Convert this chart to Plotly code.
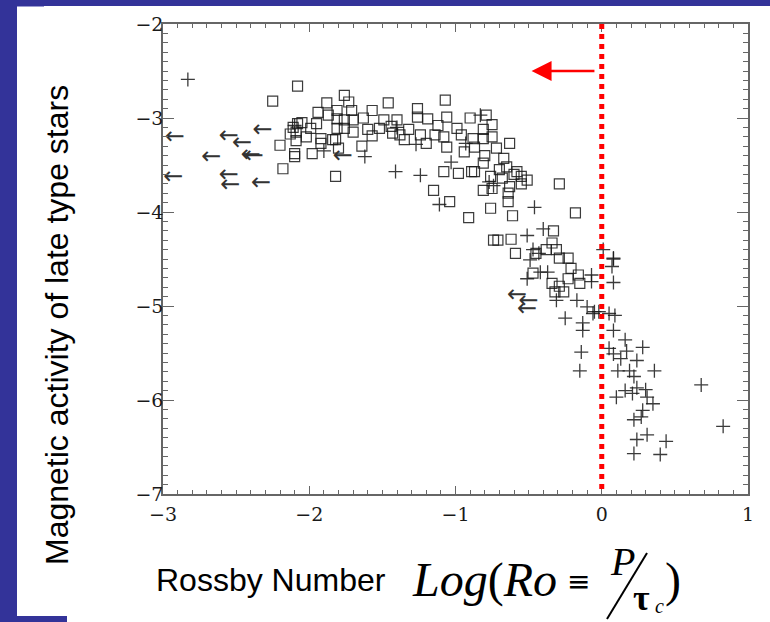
import plotly.graph_objects as go

# ---------------- data ----------------
square_x = [-2.08, -2.25, -1.76, -1.88, -1.94, -1.81, -1.87, -1.81, -2.08, -1.99, -2.11, -2.13,
            -2.09, -2.09, -2.20, -2.10, -2.10, -2.18, -1.98, -1.92, -1.92, -1.84,
            -1.73, -1.71, -1.76, -1.81, -1.76, -1.70, -1.63, -1.57, -1.57, -1.64, -1.82, -1.80,
            -1.82, -1.49, -1.46, -1.44, -1.40, -1.38, -1.35, -1.43, -1.52, -1.26, -1.26, -1.19,
            -1.07, -1.06, -1.24, -1.20, -1.14, -1.08, -1.06, -0.99, -0.96, -0.90, -0.79, -0.75,
            -0.81, -0.88, -0.81, -0.75, -0.72, -0.63, -0.87, -0.94, -0.80, -0.67, -0.65, -1.08,
            -0.98, -0.89, -0.81, -0.87, -0.76, -0.81, -0.75, -0.68, -0.63, -0.58, -0.55, -0.51,
            -0.64, -0.64, -0.55, -1.15, -1.04, -0.76, -0.61, -0.91, -0.29, -0.18, -0.74, -0.71,
            -0.62, -0.33, -0.59, -0.38, -0.34, -0.31, -0.23, -0.29, -0.45,
            -0.34, -0.21, -0.16, -0.15, -0.23, -0.29, -0.26, -0.32, -0.47,
            -2.05, -2.02, -1.95, -1.70, -1.60, -1.32, -1.12, -0.70, -0.60]
square_y = [-2.66, -2.82, -2.76, -2.84, -2.94, -2.92, -2.97, -3.01, -3.06, -3.11, -3.10, -3.17,
            -3.15, -3.24, -3.29, -3.38, -3.41, -3.54, -3.38, -3.22, -3.27, -3.23,
            -2.83, -2.92, -3.02, -3.11, -3.11, -3.02, -3.00, -2.92, -3.19, -3.30, -3.23, -3.32,
            -3.62, -3.02, -2.84, -3.09, -3.02, -3.18, -3.23, -3.16, -3.11, -2.90, -2.99, -3.01,
            -2.81, -2.99, -3.18, -3.27, -3.18, -3.20, -3.31, -3.11, -3.18, -3.00, -2.97, -3.07,
            -3.12, -3.22, -3.22, -3.20, -3.32, -3.27, -3.31, -3.36, -3.40, -3.43, -3.52, -3.57,
            -3.59, -3.57, -3.48, -3.57, -3.62, -3.77, -3.75, -3.64, -3.73, -3.57, -3.62, -3.66,
            -3.80, -3.89, -3.70, -3.77, -3.89, -3.96, -4.04, -4.06, -3.70, -4.01, -4.30, -4.30,
            -4.29, -4.20, -4.44, -4.40, -4.33, -4.40, -4.49, -4.49, -4.44,
            -4.76, -4.60, -4.67, -4.76, -4.71, -4.79, -4.85, -4.85, -4.65,
            -3.05, -3.20, -3.06, -3.15, -3.12, -3.12, -3.08, -3.55, -3.60]

plus_x = [-2.83, -1.90, -2.10, -1.62, -1.41, -1.24, -1.11, -0.46, -0.51, -0.40, 0.01, 0.08,
          -1.27, -0.83, -1.03, -0.49, -1.40, -0.93, -0.77, -0.74,
          -0.51, -0.42, -0.37, -0.47, -0.43, -0.31, -0.17, -0.10, -0.06, -0.25, -0.13, -0.13,
          -0.07, -0.07, -0.02, 0.05, 0.09, 0.08, 0.08, 0.07, 0.08, -0.14, -0.15,
          0.16, 0.05, 0.08, 0.13, 0.17, 0.24, 0.28, 0.11, 0.19, 0.22, 0.36, 0.24, 0.30, 0.16,
          0.21, 0.10, 0.31, 0.35, 0.68, 0.28, 0.27, 0.22, 0.83, 0.31, 0.24, 0.44, 0.22, 0.40,
          -0.05]
plus_y = [-2.59, -3.35, -3.08, -3.41, -3.57, -3.61, -3.92, -3.95, -4.25, -4.18, -4.40, -4.49,
          -3.28, -2.97, -3.47, -4.51, -3.10, -3.27, -3.68, -3.72,
          -4.71, -4.64, -4.64, -4.40, -4.44, -4.94, -4.94, -5.01, -5.08, -5.13, -5.18, -5.26,
          -4.67, -4.74, -5.06, -5.08, -5.10, -5.26, -4.50, -4.58, -4.75, -5.49, -5.69,
          -5.36, -5.45, -5.51, -5.56, -5.48, -5.58, -5.44, -5.69, -5.69, -5.75, -5.69, -5.87,
          -5.89, -5.90, -5.93, -5.97, -5.97, -6.04, -5.84, -6.11, -6.18, -6.21, -6.28, -6.37,
          -6.42, -6.44, -6.57, -6.58, -5.06]

limit_x = [-2.92, -2.67, -2.55, -2.46, -2.40, -2.38, -2.32, -2.93, -2.55, -2.54, -2.33, -1.77,
           -0.58, -0.50, -0.51]
limit_y = [-3.21, -3.43, -3.20, -3.28, -3.40, -3.41, -3.14, -3.64, -3.62, -3.72, -3.70, -3.41,
           -4.89, -4.96, -5.04]

x_ticks = [-3, -2, -1, 0, 1]
y_ticks = [-2, -3, -4, -5, -6, -7]
x_range = [-3, 1]
y_range = [-7, -2]
boundary_x = 0           # Ro = 1
arrow_tail_x, arrow_tip_x, arrow_y = -0.05, -0.48, -2.5

# ---------------- geometry helpers ----------------
W, H = 770, 622
L, R, T, B = 163, 22, 24, 128
PW, PH = W - L - R, H - T - B


def px(x):
    return (x - L) / PW


def py(y):
    return (H - B - y) / PH


NAVY = "#333399"
INK = "rgba(25,25,25,0.85)"

fig = go.Figure()

fig.add_trace(go.Scatter(
    x=square_x, y=square_y, mode="markers",
    marker=dict(symbol="square-open", size=10, color=INK, line=dict(width=1.2)),
    hoverinfo="skip", showlegend=False))

fig.add_trace(go.Scatter(
    x=plus_x, y=plus_y, mode="markers",
    marker=dict(symbol="cross-thin", size=10, line=dict(width=1.3, color=INK)),
    hoverinfo="skip", showlegend=False))

fig.add_trace(go.Scatter(
    x=limit_x, y=limit_y, mode="text", text=["←"] * len(limit_x),
    textfont=dict(family="DejaVu Sans", size=24, color="#333"),
    textposition="middle center", hoverinfo="skip", showlegend=False))

shapes = []
# red dotted boundary
shapes.append(dict(type="line", xref="x", yref="y", x0=boundary_x, x1=boundary_x,
                   y0=y_range[1], y1=y_range[0],
                   line=dict(color="#ff0000", width=5, dash="5px,5px")))
# red arrow
shapes.append(dict(type="line", xref="x", yref="y", x0=arrow_tail_x, x1=arrow_tip_x + 0.12,
                   y0=arrow_y, y1=arrow_y, line=dict(color="#ff0000", width=2.5)))
hx = arrow_tip_x + 0.137
shapes.append(dict(type="path", xref="x", yref="y",
                   path=f"M {arrow_tip_x} {arrow_y} L {hx} {arrow_y + 0.106} L {hx} {arrow_y - 0.106} Z",
                   fillcolor="#ff0000", line=dict(width=0)))
# navy frame stripes
shapes.append(dict(type="rect", xref="paper", yref="paper", x0=px(0), x1=px(17), y0=py(622), y1=py(0),
                   fillcolor=NAVY, line=dict(width=0), layer="above"))
shapes.append(dict(type="rect", xref="paper", yref="paper", x0=px(0), x1=px(770), y0=py(6), y1=py(0),
                   fillcolor=NAVY, line=dict(width=0), layer="above"))
shapes.append(dict(type="rect", xref="paper", yref="paper", x0=px(0), x1=px(67), y0=py(622), y1=py(616),
                   fillcolor=NAVY, line=dict(width=0), layer="above"))
shapes.append(dict(type="rect", xref="paper", yref="paper", x0=px(17), x1=px(44), y0=py(7), y1=py(6),
                   fillcolor="#9a9ad0", line=dict(width=0), layer="above"))
# fraction slash of the formula
shapes.append(dict(type="line", xref="paper", yref="paper", x0=px(607), y0=py(619), x1=px(647), y1=py(553),
                   line=dict(color="black", width=2)))

ann = []
ann.append(dict(text="Magnetic activity of late type stars", x=px(57), y=py(325), xref="paper", yref="paper",
                textangle=-90, showarrow=False, xanchor="center", yanchor="middle",
                font=dict(family="Liberation Sans", size=32, color="black")))
ann.append(dict(text="Rossby Number", x=px(271), y=py(580), xref="paper", yref="paper",
                showarrow=False, xanchor="center", yanchor="middle",
                font=dict(family="Liberation Sans", size=32, color="black")))
ann.append(dict(text="<i>Log</i>(<i>Ro</i>", x=px(410), y=py(580), xref="paper", yref="paper",
                showarrow=False, xanchor="left", yanchor="middle",
                font=dict(family="Liberation Serif", size=48, color="black")))
ann.append(dict(text="≡", x=px(578), y=py(581), xref="paper", yref="paper",
                showarrow=False, xanchor="center", yanchor="middle",
                font=dict(family="DejaVu Sans", size=28, color="black")))
ann.append(dict(text="<i>P</i>", x=px(622), y=py(561), xref="paper", yref="paper",
                showarrow=False, xanchor="center", yanchor="middle",
                font=dict(family="Liberation Serif", size=40, color="black")))
ann.append(dict(text="<b>τ</b>", x=px(641), y=py(598), xref="paper", yref="paper",
                showarrow=False, xanchor="center", yanchor="middle",
                font=dict(family="Liberation Serif", size=36, color="black")))
ann.append(dict(text="<i>c</i>", x=px(659), y=py(606), xref="paper", yref="paper",
                showarrow=False, xanchor="center", yanchor="middle",
                font=dict(family="Liberation Serif", size=20, color="black")))
ann.append(dict(text=")", x=px(673), y=py(580), xref="paper", yref="paper",
                showarrow=False, xanchor="center", yanchor="middle",
                font=dict(family="Liberation Serif", size=48, color="black")))

axis_common = dict(showgrid=False, zeroline=False, showline=True, linecolor="#666", linewidth=1.5,
                   mirror="allticks", ticks="inside", tickcolor="#666", tickwidth=1.2,
                   tickfont=dict(family="DejaVu Serif", size=19, color="#1a1a1a"))

fig.update_layout(
    width=W, height=H, margin=dict(l=L, r=R, t=T, b=B),
    paper_bgcolor="white", plot_bgcolor="white",
    xaxis=dict(range=x_range, tickvals=x_ticks, ticklen=8,
               minor=dict(dtick=0.1, ticklen=4, ticks="inside", tickcolor="#666", tickwidth=1),
               ticklabelstandoff=2, **axis_common),
    yaxis=dict(range=y_range, tickvals=y_ticks, ticklen=11,
               minor=dict(dtick=0.1, ticklen=5.5, ticks="inside", tickcolor="#666", tickwidth=1),
               ticklabelstandoff=-6, **axis_common),
    shapes=shapes, annotations=ann,
)

fig.write_html("out.html")
